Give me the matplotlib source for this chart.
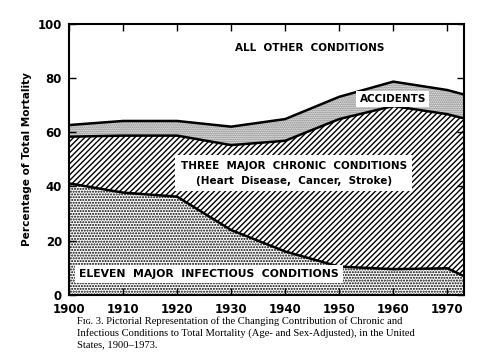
import numpy as np
import matplotlib
matplotlib.use("Agg")
import matplotlib.pyplot as plt

# Share of total mortality (%)
years = [1900, 1910, 1920, 1930, 1940, 1950, 1960, 1970, 1973]
infectious = [41.1, 37.7, 36.2, 23.9, 16.0, 10.4, 9.5, 9.8, 7.0]
chronic = [17.2, 21.0, 22.5, 31.3, 40.8, 54.4, 60.1, 56.8, 58.1]
accidents = [4.3, 5.4, 5.4, 6.8, 8.0, 8.2, 9.0, 8.9, 8.8]

x_ticks = [1900, 1910, 1920, 1930, 1940, 1950, 1960, 1970]
y_ticks = [0, 20, 40, 60, 80, 100]

CAPTION = [
    "F\u026a\u0262. 3. Pictorial Representation of the Changing Contribution of Chronic and",
    "Infectious Conditions to Total Mortality (Age- and Sex-Adjusted), in the United",
    "States, 1900\u20131973.",
]

plt.rcParams["hatch.linewidth"] = 1.0
plt.rcParams["font.family"] = ["DejaVu Sans"]

fig = plt.figure(figsize=(5.0, 3.57), dpi=100)
ax = fig.add_axes([0.138, 0.174, 0.789, 0.760])

x = np.array(years)
y1 = np.array(infectious)
y2 = y1 + np.array(chronic)
y3 = y2 + np.array(accidents)

ax.fill_between(x, 0, y1, facecolor="white", edgecolor="black", hatch="......", linewidth=0)
ax.fill_between(x, y1, y2, facecolor="white", edgecolor="black", hatch="//////", linewidth=0)
ax.fill_between(x, y2, y3, facecolor="white", edgecolor="#6a6a6a", hatch="........", linewidth=0)
for y in (y1, y2, y3):
    ax.plot(x, y, color="black", lw=1.8, solid_joinstyle="round")

ax.set_xlim(1900, 1973)
ax.set_ylim(0, 100)
ax.set_xticks(x_ticks)
ax.set_yticks(y_ticks)
ax.tick_params(direction="in", length=5, width=1, top=True, right=True, labelsize=8.5)
ax.tick_params(axis="x", pad=6)
ax.tick_params(axis="y", pad=5)
for lab in ax.get_xticklabels() + ax.get_yticklabels():
    lab.set_fontweight("bold")
for s in ax.spines.values():
    s.set_linewidth(1.5)

ax.set_ylabel("Percentage of Total Mortality", fontsize=7.6, fontweight="bold", labelpad=4)

box = dict(facecolor="white", edgecolor="none", pad=2.5)
ax.text(1944.5, 91.1, "ALL  OTHER  CONDITIONS", ha="center", va="center",
        fontsize=7.5, fontweight="bold")
ax.text(1959.9, 72.2, "ACCIDENTS", ha="center", va="center",
        fontsize=7.5, fontweight="bold", bbox=box)
ax.text(1941.6, 44.8, "THREE  MAJOR  CHRONIC  CONDITIONS\n(Heart  Disease,  Cancer,  Stroke)",
        ha="center", va="center", fontsize=7.5, fontweight="bold", linespacing=1.6,
        bbox=dict(facecolor="white", edgecolor="none", pad=4))
ax.text(1925.9, 7.7, "ELEVEN  MAJOR  INFECTIOUS  CONDITIONS", ha="center", va="center",
        fontsize=7.8, fontweight="bold", bbox=dict(facecolor="white", edgecolor="none", pad=3))

for i, line in enumerate(CAPTION):
    fig.text(0.154, 0.100 - i * 0.033, line, ha="left", va="center", fontsize=7.6,
             family=["Liberation Serif", "DejaVu Serif"])

fig.savefig("out.png", dpi=100)
